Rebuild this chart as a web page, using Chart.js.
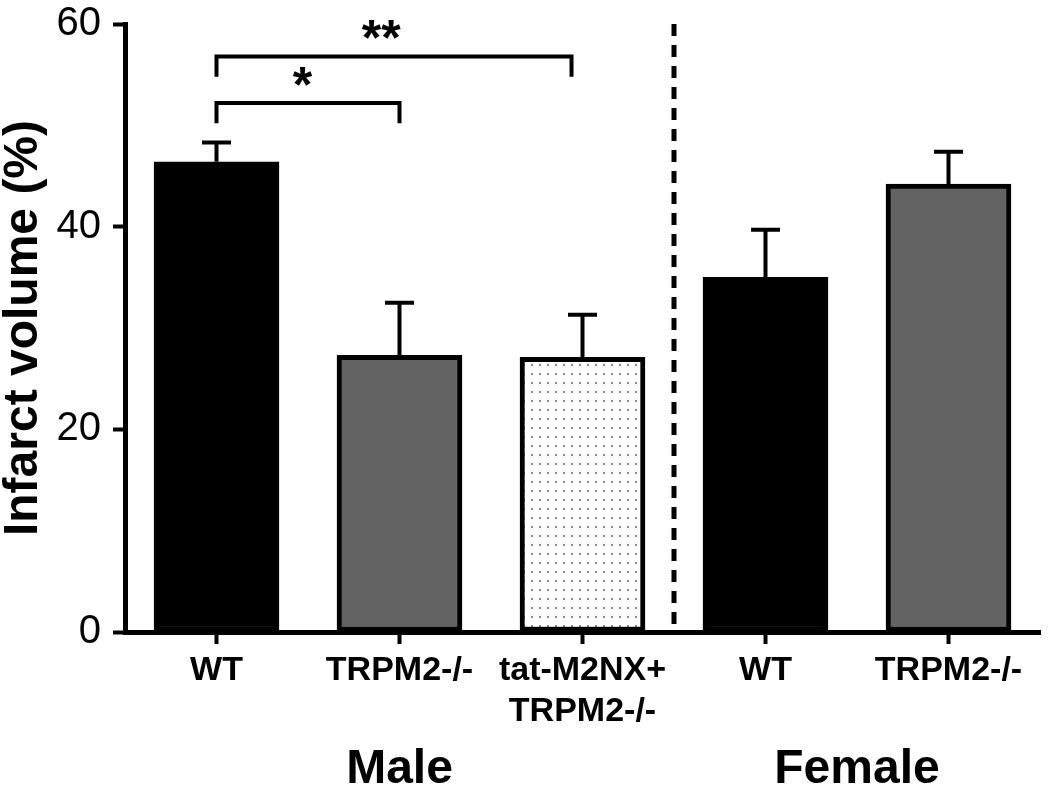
<!DOCTYPE html>
<html>
<head>
<meta charset="utf-8">
<script src="https://cdn.jsdelivr.net/npm/chart.js@4.4.0/dist/chart.umd.min.js"></script>
<style>
	html, body { margin: 0; padding: 0; background: #fff; }
	#wrap { width: 1050px; height: 795px; }
</style>
</head>
<body>
<div id="wrap"><canvas id="infarctChart" width="1050" height="795"></canvas></div>
<script>
// valeurs
const categories = ["WT", "TRPM2-/-", ["tat-M2NX+", "TRPM2-/-"], "WT", "TRPM2-/-"];
const infarctMean = [46.4, 27.3, 27.1, 35.0, 44.2];
const infarctSem = [1.9, 5.2, 4.2, 4.7, 3.2];
const yTicks = [0, 20, 40, 60];
const sexGroups = ["Male", "Female"];
const groupSpans = [[0, 2], [3, 4]];
const brackets = [
	{ from: 0, to: 1, top: 52.2, foot: 50.2, label: "*", labelAt: 0.47 },
	{ from: 0, to: 1.94, top: 56.8, foot: 54.8, label: "**", labelAt: 0.9 },
];

const FONT = "'Liberation Sans', Arial, sans-serif";

function dotPattern() {
	const c = document.createElement("canvas");
	c.width = 8;
	c.height = 9;
	const g = c.getContext("2d");
	g.fillStyle = "#fff";
	g.fillRect(0, 0, 8, 9);
	g.fillStyle = "#8a8a8a";
	g.fillRect(3, 4, 2, 2);
	return g.createPattern(c, "repeat");
}

const barFill = ["#000", "#636363", dotPattern(), "#000", "#636363"];

// barres d'erreur, crochets, ligne pointillée, groupes
const extras = {
	id: "extras",
	afterDatasetsDraw(chart) {
		const ctx = chart.ctx;
		const x = chart.scales.x;
		const y = chart.scales.y;
		const area = chart.chartArea;
		ctx.save();
		ctx.strokeStyle = "#000";
		ctx.fillStyle = "#000";

		// erreur (vers le haut seulement)
		ctx.lineWidth = 4;
		chart.getDatasetMeta(0).data.forEach((bar, i) => {
			const top = y.getPixelForValue(infarctMean[i] + infarctSem[i]);
			ctx.beginPath();
			ctx.moveTo(bar.x, bar.y);
			ctx.lineTo(bar.x, top);
			ctx.moveTo(bar.x - 14.5, top);
			ctx.lineTo(bar.x + 14.5, top);
			ctx.stroke();
		});

		// séparation male / female
		ctx.lineWidth = 5;
		ctx.setLineDash([12, 9]);
		const sep = x.getPixelForValue(2.5);
		ctx.beginPath();
		ctx.moveTo(sep, area.top);
		ctx.lineTo(sep, area.bottom);
		ctx.stroke();
		ctx.setLineDash([]);

		// crochets de significativité
		ctx.lineWidth = 4;
		ctx.lineJoin = "miter";
		ctx.font = "bold 50px " + FONT;
		ctx.textAlign = "center";
		ctx.textBaseline = "alphabetic";
		brackets.forEach((b) => {
			const x1 = x.getPixelForValue(b.from);
			const x2 = x.getPixelForValue(b.to);
			const yTop = y.getPixelForValue(b.top);
			const yFoot = y.getPixelForValue(b.foot);
			ctx.beginPath();
			ctx.moveTo(x1, yFoot);
			ctx.lineTo(x1, yTop);
			ctx.lineTo(x2, yTop);
			ctx.lineTo(x2, yFoot);
			ctx.stroke();
			ctx.fillText(b.label, x.getPixelForValue(b.labelAt), yTop - 1);
		});

		// libellés de groupe
		ctx.font = "bold 48px " + FONT;
		ctx.textBaseline = "middle";
		sexGroups.forEach((name, i) => {
			const [a, b] = groupSpans[i];
			const cx = (x.getPixelForValue(a) + x.getPixelForValue(b)) / 2;
			ctx.fillText(name, cx, 770);
		});
		ctx.restore();
	},
};

const ctx = document.getElementById("infarctChart").getContext("2d");

new Chart(ctx, {
	type: "bar",
	data: {
		labels: categories,
		datasets: [
			{
				data: infarctMean,
				backgroundColor: barFill,
				borderColor: "#000",
				borderWidth: 5,
				borderSkipped: false,
				barThickness: 125,
			},
		],
	},
	options: {
		responsive: false,
		animation: false,
		layout: { padding: { top: 24, right: 10, left: 0, bottom: 0 } },
		plugins: {
			legend: { display: false },
			tooltip: { enabled: false },
		},
		scales: {
			x: {
				offset: true,
				grid: {
					offset: false,
					drawOnChartArea: false,
					tickLength: 12,
					tickWidth: 4,
					tickColor: "#000",
				},
				border: { width: 5, color: "#000" },
				ticks: {
					color: "#000",
					font: { family: FONT, size: 34, weight: "bold", lineHeight: 1.2 },
					padding: 6,
					maxRotation: 0,
					autoSkip: false,
				},
				afterFit: (s) => {
					s.height = 163;
					s.paddingLeft = 0;
					s.paddingRight = 0;
				},
			},
			y: {
				min: 0,
				max: 60,
				afterBuildTicks: (s) => {
					s.ticks = yTicks.map((v) => ({ value: v }));
				},
				grid: {
					drawOnChartArea: false,
					tickLength: 12,
					tickWidth: 4,
					tickColor: "#000",
				},
				border: { width: 5, color: "#000" },
				ticks: {
					color: "#000",
					font: { family: FONT, size: 40 },
					padding: 12,
				},
				title: {
					display: true,
					text: "Infarct volume (%)",
					color: "#000",
					font: { family: FONT, size: 48, weight: "bold", lineHeight: 1.0 },
					padding: 0,
				},
				afterFit: (s) => {
					s.width = 125;
					s.paddingTop = 0;
					s.paddingBottom = 0;
				},
			},
		},
	},
	plugins: [extras],
});
</script>
</body>
</html>
